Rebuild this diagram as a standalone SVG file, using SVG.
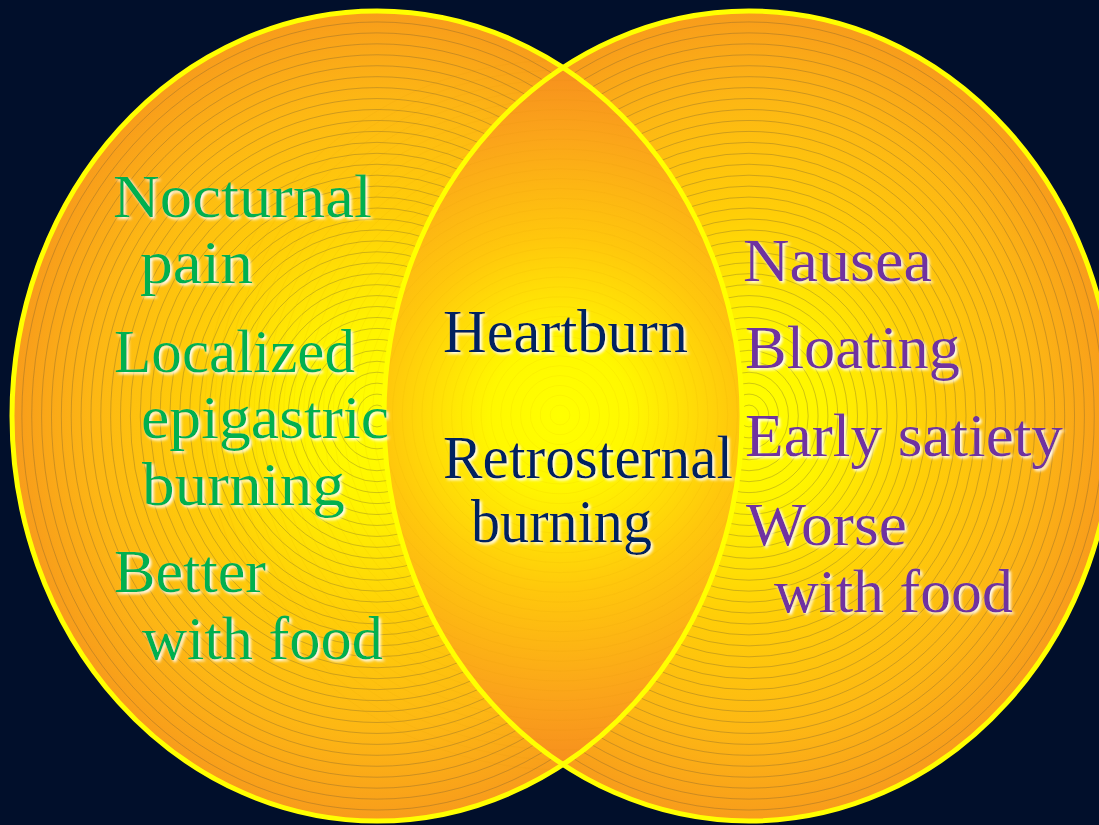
<svg xmlns="http://www.w3.org/2000/svg" xmlns:xlink="http://www.w3.org/1999/xlink" width="1099" height="825" viewBox="0 0 1099 825">
  <style>
    .t { font-family: "Liberation Serif", "DejaVu Serif", serif; font-size: 61px; filter: url(#glow); }
    .green { fill: #00B050; }
    .navy { fill: #002060; }
    .purple { fill: #7030A0; }
    .outline { fill: none; stroke: #FFFF00; stroke-width: 5; }
    .ringsOuter { fill: none; stroke: #5e5236; stroke-opacity: 0.5; stroke-width: 0.6; }
    .ringsLens { fill: none; stroke: #d08a00; stroke-opacity: 0.12; stroke-width: 0.7; }
  </style>
  <defs>
    <radialGradient id="gOuter" cx="0.5" cy="0.5" r="0.5">
      <stop offset="0" stop-color="#FFFF00"/>
      <stop offset="0.22" stop-color="#FFF400"/>
      <stop offset="0.5" stop-color="#FFCE08"/>
      <stop offset="0.78" stop-color="#FDB714"/>
      <stop offset="1" stop-color="#F89C1B"/>
    </radialGradient>
    <radialGradient id="gLens" gradientUnits="userSpaceOnUse" cx="560" cy="415" r="350">
      <stop offset="0" stop-color="#FFFF00"/>
      <stop offset="0.2" stop-color="#FFF800"/>
      <stop offset="0.5" stop-color="#FFC80C"/>
      <stop offset="0.8" stop-color="#FBA51A"/>
      <stop offset="1" stop-color="#F78F1E"/>
    </radialGradient>
    <filter id="glow" x="-10%" y="-30%" width="125%" height="160%">
      <feGaussianBlur in="SourceAlpha" stdDeviation="1.8"/>
      <feOffset dx="1.5" dy="1.8" result="b"/>
      <feFlood flood-color="#FFFFFF" flood-opacity="1"/>
      <feComposite in2="b" operator="in" result="s"/>
      <feMerge><feMergeNode in="s"/><feMergeNode in="SourceGraphic"/></feMerge>
    </filter>
    <clipPath id="clipLeft">
      <ellipse cx="377" cy="416" rx="365" ry="405"/>
    </clipPath>
    <g id="rings">
      <ellipse rx="9.86" ry="10.95"/>
      <ellipse rx="19.73" ry="21.89"/>
      <ellipse rx="29.59" ry="32.84"/>
      <ellipse rx="39.46" ry="43.78"/>
      <ellipse rx="49.32" ry="54.73"/>
      <ellipse rx="59.19" ry="65.68"/>
      <ellipse rx="69.05" ry="76.62"/>
      <ellipse rx="78.92" ry="87.57"/>
      <ellipse rx="88.78" ry="98.51"/>
      <ellipse rx="98.65" ry="109.46"/>
      <ellipse rx="108.51" ry="120.41"/>
      <ellipse rx="118.38" ry="131.35"/>
      <ellipse rx="128.24" ry="142.30"/>
      <ellipse rx="138.11" ry="153.24"/>
      <ellipse rx="147.97" ry="164.19"/>
      <ellipse rx="157.84" ry="175.14"/>
      <ellipse rx="167.70" ry="186.08"/>
      <ellipse rx="177.57" ry="197.03"/>
      <ellipse rx="187.43" ry="207.97"/>
      <ellipse rx="197.30" ry="218.92"/>
      <ellipse rx="207.16" ry="229.86"/>
      <ellipse rx="217.03" ry="240.81"/>
      <ellipse rx="226.89" ry="251.76"/>
      <ellipse rx="236.76" ry="262.70"/>
      <ellipse rx="246.62" ry="273.65"/>
      <ellipse rx="256.49" ry="284.59"/>
      <ellipse rx="266.35" ry="295.54"/>
      <ellipse rx="276.22" ry="306.49"/>
      <ellipse rx="286.08" ry="317.43"/>
      <ellipse rx="295.95" ry="328.38"/>
      <ellipse rx="305.81" ry="339.32"/>
      <ellipse rx="315.68" ry="350.27"/>
      <ellipse rx="325.54" ry="361.22"/>
      <ellipse rx="335.41" ry="372.16"/>
      <ellipse rx="345.27" ry="383.11"/>
      <ellipse rx="355.14" ry="394.05"/>
    </g>
  </defs>

  <rect x="0" y="0" width="1099" height="825" fill="#010F2B"/>

  <g id="left-circle">
    <ellipse cx="377" cy="416" rx="365" ry="405" fill="url(#gOuter)"/>
    <use xlink:href="#rings" href="#rings" class="ringsOuter" transform="translate(377,416)"/>
  </g>

  <g id="right-circle">
    <ellipse cx="749" cy="416" rx="365" ry="405" fill="url(#gOuter)"/>
    <use xlink:href="#rings" href="#rings" class="ringsOuter" transform="translate(749,416)"/>
  </g>

  <g id="overlap">
    <g clip-path="url(#clipLeft)">
      <ellipse cx="749" cy="416" rx="365" ry="405" fill="url(#gLens)"/>
      <use xlink:href="#rings" href="#rings" class="ringsLens" transform="translate(560,415) scale(1,0.9)"/>
    </g>
  </g>

  <g id="outlines">
    <ellipse class="outline" cx="377" cy="416" rx="365" ry="405"/>
    <ellipse class="outline" cx="749" cy="416" rx="365" ry="405"/>
  </g>

  <g id="left-labels">
    <text class="t green" x="113" y="217" textLength="259" lengthAdjust="spacingAndGlyphs">Nocturnal</text>
    <text class="t green" x="140" y="283" textLength="113" lengthAdjust="spacingAndGlyphs">pain</text>
    <text class="t green" x="114" y="372" textLength="241" lengthAdjust="spacingAndGlyphs">Localized</text>
    <text class="t green" x="141" y="438" textLength="248" lengthAdjust="spacingAndGlyphs">epigastric</text>
    <text class="t green" x="142" y="505" textLength="203" lengthAdjust="spacingAndGlyphs">burning</text>
    <text class="t green" x="114" y="592" textLength="152" lengthAdjust="spacingAndGlyphs">Better</text>
    <text class="t green" x="142" y="659" textLength="241" lengthAdjust="spacingAndGlyphs">with food</text>
  </g>

  <g id="center-labels">
    <text class="t navy" x="443" y="352" textLength="245" lengthAdjust="spacingAndGlyphs">Heartburn</text>
    <text class="t navy" x="443" y="478" textLength="290" lengthAdjust="spacingAndGlyphs">Retrosternal</text>
    <text class="t navy" x="471" y="542" textLength="181" lengthAdjust="spacingAndGlyphs">burning</text>
  </g>

  <g id="right-labels">
    <text class="t purple" x="743" y="281" textLength="189" lengthAdjust="spacingAndGlyphs">Nausea</text>
    <text class="t purple" x="745" y="368" textLength="215" lengthAdjust="spacingAndGlyphs">Bloating</text>
    <text class="t purple" x="745" y="456" textLength="318" lengthAdjust="spacingAndGlyphs">Early satiety</text>
    <text class="t purple" x="746" y="545" textLength="161" lengthAdjust="spacingAndGlyphs">Worse</text>
    <text class="t purple" x="774" y="612" textLength="239" lengthAdjust="spacingAndGlyphs">with food</text>
  </g>
</svg>
